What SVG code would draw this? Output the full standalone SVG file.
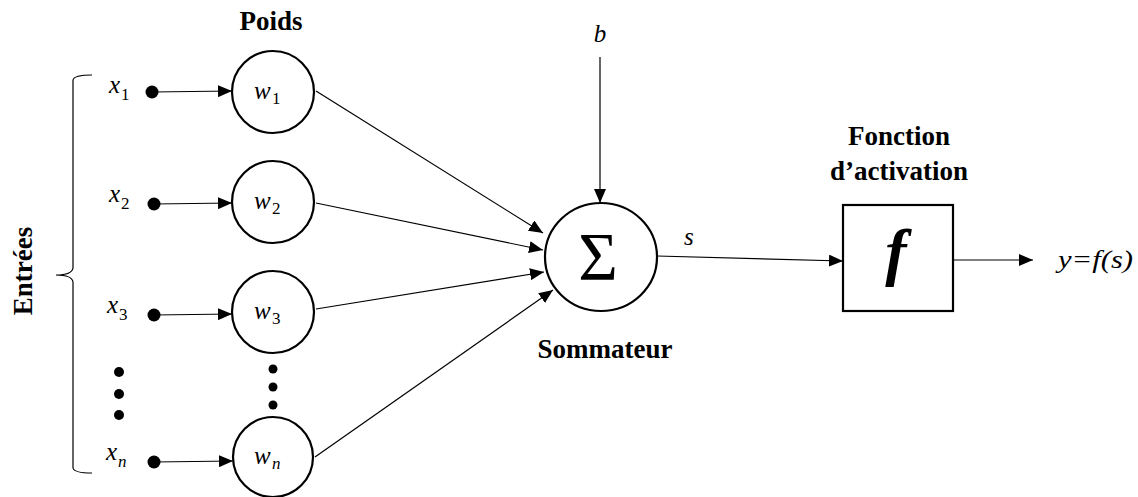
<svg xmlns="http://www.w3.org/2000/svg" width="1138" height="497" viewBox="0 0 1138 497">
<style>
.lbl{font-family:"Liberation Serif","Times New Roman","DejaVu Serif",serif;font-weight:bold;font-size:27px;fill:#000}
.m{font-family:"Liberation Serif","Times New Roman","DejaVu Serif",serif;font-style:italic;font-size:25px;fill:#000}
.sub{font-family:"Liberation Serif","Times New Roman","DejaVu Serif",serif;font-size:17px;fill:#000}
.big{font-family:"Liberation Serif","Times New Roman","DejaVu Serif",serif;fill:#000}
.node{fill:#fff;stroke:#000;stroke-width:2.2}
.ln{stroke:#000;stroke-width:1.2;fill:none}
.dot{fill:#000}
</style>
<defs>
<marker id="ah" markerUnits="userSpaceOnUse" markerWidth="14" markerHeight="12" refX="14" refY="6" orient="auto">
<path d="M0,0 L14,6 L0,12 z" fill="#000"/>
</marker>
</defs>
<rect width="1138" height="497" fill="#fff"/>

<g id="entrees">
<path class="ln" d="M92,75 Q74,75 73,80 L73,268 Q72,275 56,275 Q72,275 73,282 L73,468 Q74,473 92,473" stroke-width="1.4"/>
<text class="lbl" transform="translate(32,271) rotate(-90)" text-anchor="middle">Entrées</text>
</g>

<g id="inputs">
<text class="m" x="109" y="93">x</text><text class="sub" x="121" y="100">1</text>
<circle class="dot" cx="152" cy="92" r="6.5"/>
<text class="m" x="109" y="202">x</text><text class="sub" x="121" y="209">2</text>
<circle class="dot" cx="154" cy="204" r="6.5"/>
<text class="m" x="107" y="313">x</text><text class="sub" x="119" y="320">3</text>
<circle class="dot" cx="154" cy="315" r="6.5"/>
<circle class="dot" cx="119" cy="372" r="5"/>
<circle class="dot" cx="119" cy="394" r="5"/>
<circle class="dot" cx="119" cy="415" r="5"/>
<text class="m" x="106" y="460">x</text><text class="sub" x="118" y="467" font-style="italic">n</text>
<circle class="dot" cx="154" cy="462" r="6.5"/>
</g>

<g id="poids">
<text class="lbl" x="271" y="30" text-anchor="middle">Poids</text>
<g id="w1"><circle class="node" cx="273" cy="92" r="41"/><text class="m" x="254" y="99">w</text><text class="sub" x="272" y="104">1</text></g>
<g id="w2"><circle class="node" cx="273" cy="202" r="41"/><text class="m" x="254" y="209">w</text><text class="sub" x="272" y="214">2</text></g>
<g id="w3"><circle class="node" cx="273" cy="312" r="41"/><text class="m" x="254" y="319">w</text><text class="sub" x="272" y="324">3</text></g>
<circle class="dot" cx="273" cy="369" r="4.5"/>
<circle class="dot" cx="273" cy="387" r="4.5"/>
<circle class="dot" cx="273" cy="405" r="4.5"/>
<g id="wn"><circle class="node" cx="273" cy="457" r="40"/><text class="m" x="254" y="464">w</text><text class="sub" x="272" y="469" font-style="italic">n</text></g>
</g>

<g id="sommateur">
<ellipse class="node" cx="601" cy="257" rx="56" ry="54"/>
<text class="big" x="598" y="279" text-anchor="middle" font-size="68">Σ</text>
<text class="lbl" x="605" y="358" text-anchor="middle">Sommateur</text>
</g>

<g id="activation">
<text class="lbl" x="899" y="145" text-anchor="middle">Fonction</text>
<text class="lbl" x="899" y="180" text-anchor="middle">d’activation</text>
<rect class="node" x="843" y="205" width="110" height="106"/>
<text class="big" x="896" y="273" text-anchor="middle" font-style="italic" font-weight="bold" font-size="64">f</text>
</g>

<g id="labels">
<text class="m" x="600" y="42" text-anchor="middle">b</text>
<text class="m" x="684" y="245">s</text>
<text class="m" x="1058" y="268" textLength="75" lengthAdjust="spacingAndGlyphs">y=f(s)</text>
</g>

<g id="connectors">
<line class="ln" x1="152" y1="92" x2="232" y2="91" marker-end="url(#ah)"/>
<line class="ln" x1="154" y1="204" x2="232" y2="203" marker-end="url(#ah)"/>
<line class="ln" x1="154" y1="315" x2="232" y2="314" marker-end="url(#ah)"/>
<line class="ln" x1="154" y1="462" x2="233" y2="461" marker-end="url(#ah)"/>
<line class="ln" x1="316" y1="91" x2="543" y2="233" marker-end="url(#ah)"/>
<line class="ln" x1="316" y1="203" x2="543" y2="250" marker-end="url(#ah)"/>
<line class="ln" x1="316" y1="309" x2="544" y2="272" marker-end="url(#ah)"/>
<line class="ln" x1="315" y1="457" x2="553" y2="290" marker-end="url(#ah)"/>
<line class="ln" x1="600" y1="57" x2="600" y2="203" marker-end="url(#ah)"/>
<line class="ln" x1="657" y1="256" x2="843" y2="261" marker-end="url(#ah)"/>
<line class="ln" x1="953" y1="260" x2="1033" y2="260" marker-end="url(#ah)"/>
</g>
</svg>
